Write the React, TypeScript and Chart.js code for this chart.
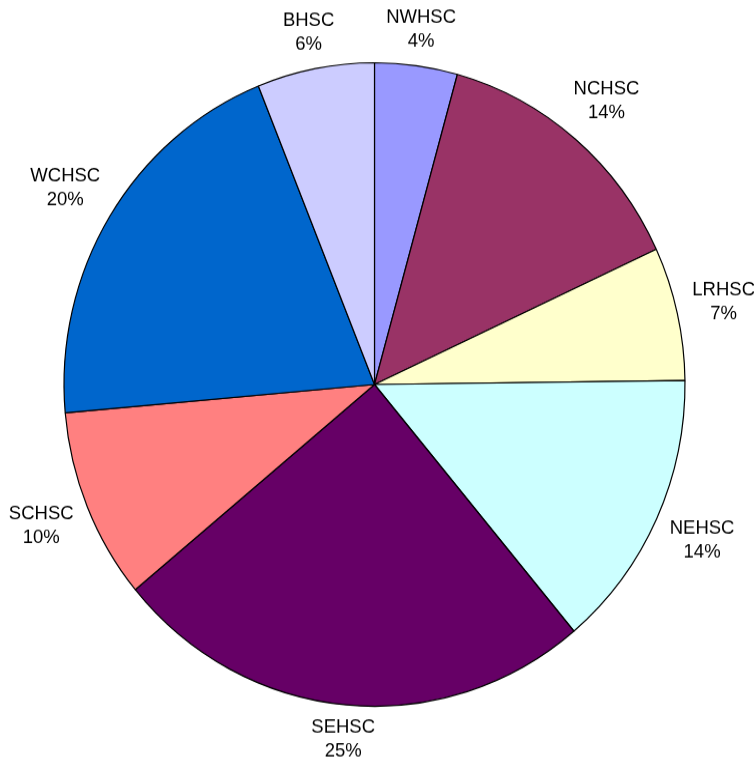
import React, { useEffect, useRef } from "react";
import { Chart, registerables } from "chart.js";

Chart.register(...registerables);

const categories = ["NWHSC", "NCHSC", "LRHSC", "NEHSC", "SEHSC", "SCHSC", "WCHSC", "BHSC"];
const shares = [4.3, 13.8, 6.7, 14.1, 25.1, 9.6, 20.3, 6.1];
const sliceColors = ["#9999FF", "#993366", "#FFFFCC", "#CCFFFF", "#660066", "#FF8080", "#0066CC", "#CCCCFF"];

const W = 754;
const H = 743;
const STRETCH = 770 / 743;

const labelPlugin = {
  id: "outsideLabels",
  afterDatasetsDraw(chart: any) {
    const ctx = chart.ctx;
    const meta = chart.getDatasetMeta(0);
    const data = chart.data.datasets[0].data as number[];
    const total = data.reduce((a: number, b: number) => a + b, 0);
    const half = 11.5;
    const boxH = 18;
    const gap = 13;
    ctx.save();
    ctx.fillStyle = "#000";
    ctx.font = '18.5px "Liberation Sans", Arial, sans-serif';
    ctx.textAlign = "center";
    ctx.textBaseline = "middle";
    meta.data.forEach((arc: any, i: number) => {
      const p = arc.getProps(["x", "y", "startAngle", "endAngle", "outerRadius"], true);
      const mid = (p.startAngle + p.endAngle) / 2;
      const name = chart.data.labels[i] as string;
      const pct = Math.round((data[i] / total) * 100) + "%";
      const w = Math.max(ctx.measureText(name).width, ctx.measureText(pct).width) / 2;
      const d = p.outerRadius + gap + w * Math.abs(Math.cos(mid)) + boxH * Math.abs(Math.sin(mid));
      const cx = p.x + Math.cos(mid) * d;
      const cy = p.y + Math.sin(mid) * d;
      ctx.fillText(name, cx, cy - half);
      ctx.fillText(pct, cx, cy + half);
    });
    ctx.restore();
  },
};

export default function App() {
  const ref = useRef<HTMLCanvasElement | null>(null);
  useEffect(() => {
    if (!ref.current) return;
    const chart = new Chart(ref.current, {
      type: "pie",
      data: {
        labels: categories,
        datasets: [
          {
            data: shares,
            backgroundColor: sliceColors,
            borderColor: "#000000",
            borderWidth: 1.2,
          },
        ],
      },
      options: {
        responsive: false,
        animation: false,
        radius: 310.5,
        layout: { padding: { left: 0, right: 5, top: 0, bottom: 1 } },
        plugins: {
          legend: { display: false },
          tooltip: { enabled: false },
        },
      } as any,
      plugins: [labelPlugin],
    });
    return () => chart.destroy();
  }, []);
  return (
    <div style={{ position: "absolute", left: 0, top: 0, width: 754, height: 770, overflow: "hidden", background: "#fff" }}>
      <div style={{ transform: `scaleY(${STRETCH})`, transformOrigin: "0 0", width: W, height: H }}>
        <canvas ref={ref} width={W} height={H} />
      </div>
    </div>
  );
}
